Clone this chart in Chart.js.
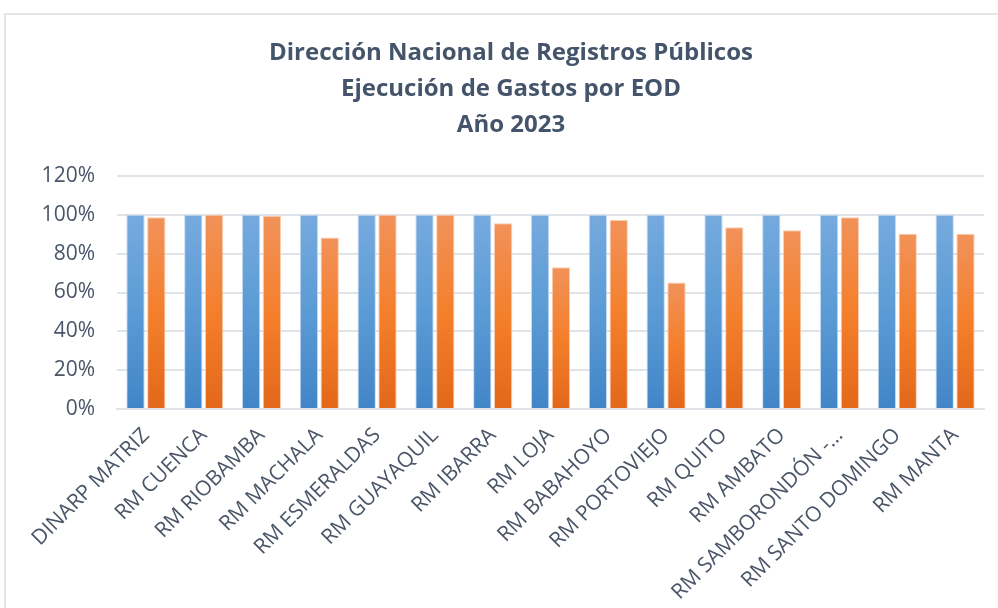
<!DOCTYPE html>
<html>
<head>
<meta charset="utf-8">
<script src="https://cdn.jsdelivr.net/npm/chart.js@4/dist/chart.umd.min.js"></script>
<style>
  html, body { margin: 0; padding: 0; background: #fff; }
  #frame { position: absolute; left: 4px; top: 13px; width: 1000px; height: 600px;
           border-left: 2px solid #e2e5ea; border-top: 2px solid #e2e5ea; }
  #wrap { position: absolute; left: 0; top: 0; width: 998px; height: 608px; }
</style>
</head>
<body>
<div id="frame"></div>
<div id="wrap"><canvas id="chart" width="998" height="608"></canvas></div>
<script>
const categories = [
  'DINARP MATRIZ', 'RM CUENCA', 'RM RIOBAMBA', 'RM MACHALA', 'RM ESMERALDAS',
  'RM GUAYAQUIL', 'RM IBARRA', 'RM LOJA', 'RM BABAHOYO', 'RM PORTOVIEJO',
  'RM QUITO', 'RM AMBATO', 'RM SAMBORONDÓN -…', 'RM SANTO DOMINGO', 'RM MANTA'
];
const codificado = [100, 100, 100, 100, 100, 100, 100, 100, 100, 100, 100, 100, 100, 100, 100];
const ejecutado = [98.8, 100, 99.5, 88.3, 100, 100, 95.7, 73.0, 97.4, 65.1, 93.6, 92.1, 98.8, 90.2, 90.2];
const yTicks = [0, 20, 40, 60, 80, 100, 120];

const barGradient = (c, top, mid, bottom) => {
  const chart = c.chart;
  if (!chart.chartArea || !chart.scales.y) return mid;
  const y = chart.scales.y;
  const y0 = y.getPixelForValue(c.raw);
  const y1 = y.getPixelForValue(0);
  const g = chart.ctx.createLinearGradient(0, y0, 0, y1);
  g.addColorStop(0, top);
  g.addColorStop(0.5, mid);
  g.addColorStop(1, bottom);
  return g;
};

const textColor = '#4a5568';

new Chart(document.getElementById('chart'), {
  type: 'bar',
  data: {
    labels: categories,
    datasets: [
      {
        label: 'Codificado',
        data: codificado,
        backgroundColor: c => barGradient(c, '#76aade', '#5b9bd5', '#4285c7'),
        borderColor: 'rgba(190,215,240,0.9)',
        borderWidth: 1,
        categoryPercentage: 0.72,
        barPercentage: 0.88
      },
      {
        label: 'Ejecutado',
        data: ejecutado,
        backgroundColor: c => barGradient(c, '#f1925a', '#f47f2b', '#e3681a'),
        borderColor: 'rgba(250,200,170,0.9)',
        borderWidth: 1,
        categoryPercentage: 0.72,
        barPercentage: 0.88
      }
    ]
  },
  options: {
    responsive: false,
    animation: false,
    layout: { padding: { left: 38, right: 14, top: 0, bottom: 0 } },
    plugins: {
      legend: { display: false },
      tooltip: { enabled: false },
      title: {
        display: true,
        text: ['Dirección Nacional de Registros Públicos', 'Ejecución de Gastos por EOD', 'Año 2023'],
        color: '#44546a',
        font: { family: 'Open Sans', size: 24, weight: 'bold', lineHeight: 1.5 },
        padding: { top: 35, bottom: 33 }
      }
    },
    scales: {
      x: {
        grid: { display: false },
        border: { display: true, color: '#dfe2e7', width: 2 },
        ticks: {
          color: textColor,
          font: { family: 'Open Sans', size: 21 },
          maxRotation: 45,
          minRotation: 45,
          padding: 6,
          autoSkip: false
        },
        afterFit: s => { s.height = 199; }
      },
      y: {
        min: 0,
        max: 120,
        afterBuildTicks: s => { s.ticks = yTicks.map(v => ({ value: v })); },
        grid: { color: '#e0e3e8', lineWidth: 2, drawTicks: false },
        border: { display: false },
        ticks: {
          color: textColor,
          font: { family: 'Open Sans', size: 21 },
          padding: 22,
          callback: v => v + '%'
        },
        afterFit: s => { s.width = 79; }
      }
    }
  }
});
</script>
</body>
</html>
